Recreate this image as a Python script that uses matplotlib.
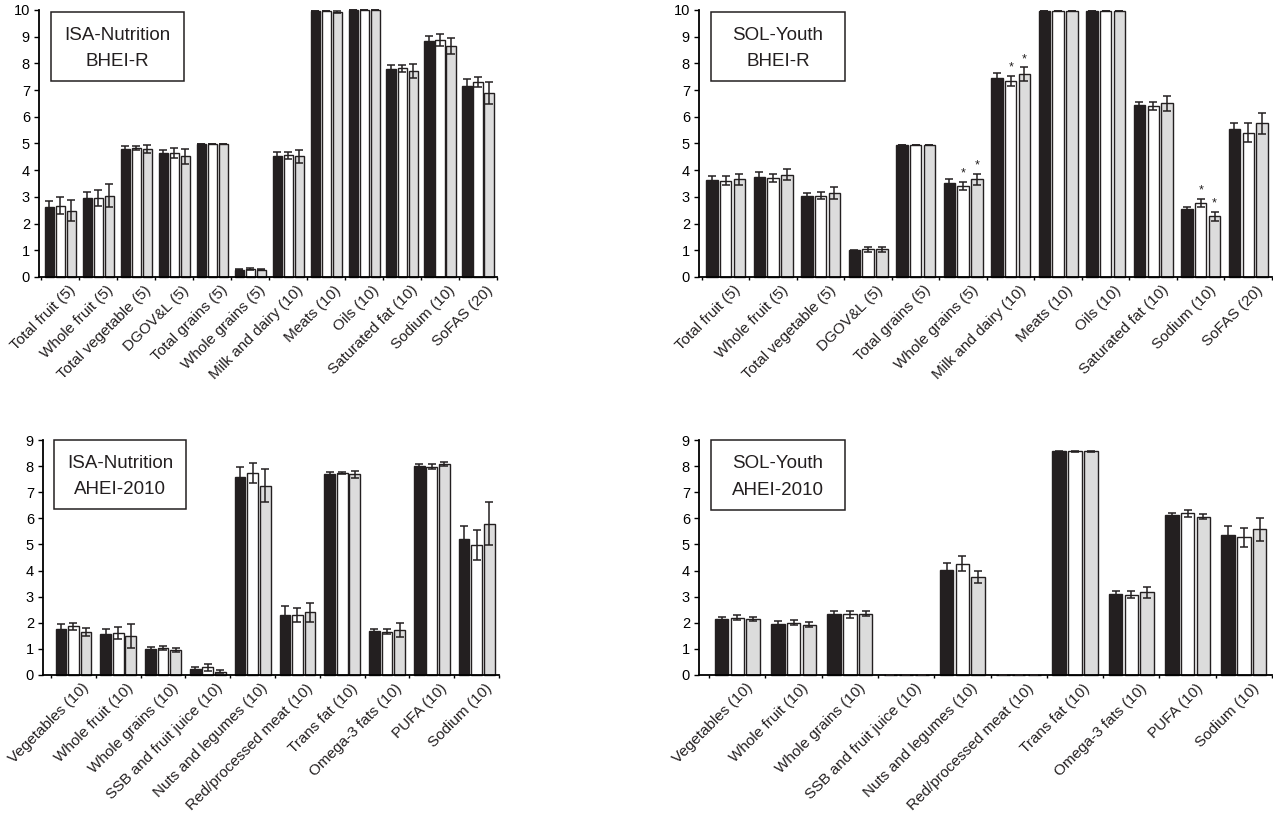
import matplotlib
matplotlib.use("Agg")
import matplotlib.pyplot as plt
from matplotlib.patches import Rectangle
import numpy as np

plt.rcParams['font.family'] = ['Liberation Sans', 'DejaVu Sans']

# ---------------- data ----------------
bhei_cats = ["Total fruit (5)", "Whole fruit (5)", "Total vegetable (5)", "DGOV&L (5)",
             "Total grains (5)", "Whole grains (5)", "Milk and dairy (10)", "Meats (10)",
             "Oils (10)", "Saturated fat (10)", "Sodium (10)", "SoFAS (20)"]
ahei_cats = ["Vegetables (10)", "Whole fruit (10)", "Whole grains (10)", "SSB and fruit juice (10)",
             "Nuts and legumes (10)", "Red/processed meat (10)", "Trans fat (10)",
             "Omega-3 fats (10)", "PUFA (10)", "Sodium (10)"]

isa_bhei_black = [2.62, 2.96, 4.78, 4.63, 4.98, 0.28, 4.53, 9.95, 10.0, 7.79, 8.83, 7.17]
isa_bhei_black_err = [0.23, 0.24, 0.13, 0.13, 0.0, 0.02, 0.15, 0.0, 0.0, 0.14, 0.18, 0.25]
isa_bhei_white = [2.67, 2.95, 4.83, 4.65, 4.98, 0.30, 4.56, 9.96, 10.0, 7.82, 8.88, 7.30]
isa_bhei_white_err = [0.32, 0.30, 0.08, 0.18, 0.0, 0.02, 0.14, 0.0, 0.0, 0.13, 0.22, 0.20]
isa_bhei_grey = [2.48, 3.05, 4.81, 4.53, 4.98, 0.27, 4.52, 9.92, 10.0, 7.72, 8.65, 6.90]
isa_bhei_grey_err = [0.40, 0.42, 0.15, 0.28, 0.0, 0.02, 0.24, 0.03, 0.0, 0.27, 0.30, 0.42]

sol_bhei_black = [3.63, 3.73, 3.05, 1.00, 4.93, 3.51, 7.44, 9.98, 9.98, 6.43, 2.56, 5.56]
sol_bhei_black_err = [0.16, 0.20, 0.11, 0.02, 0.0, 0.16, 0.21, 0.0, 0.0, 0.13, 0.06, 0.19]
sol_bhei_white = [3.61, 3.71, 3.04, 1.03, 4.93, 3.41, 7.35, 9.98, 9.98, 6.40, 2.78, 5.40]
sol_bhei_white_err = [0.17, 0.16, 0.13, 0.10, 0.0, 0.16, 0.19, 0.0, 0.0, 0.16, 0.15, 0.35]
sol_bhei_grey = [3.66, 3.83, 3.15, 1.03, 4.93, 3.66, 7.59, 9.98, 9.98, 6.50, 2.28, 5.75]
sol_bhei_grey_err = [0.21, 0.20, 0.21, 0.10, 0.0, 0.20, 0.26, 0.0, 0.0, 0.28, 0.17, 0.41]
sol_bhei_star_idx = [5, 6, 10]

isa_ahei_black = [1.76, 1.58, 0.99, 0.22, 7.59, 2.30, 7.68, 1.67, 7.99, 5.20]
isa_ahei_black_err = [0.18, 0.19, 0.10, 0.10, 0.36, 0.33, 0.10, 0.09, 0.11, 0.51]
isa_ahei_white = [1.86, 1.60, 1.03, 0.29, 7.74, 2.30, 7.74, 1.66, 7.98, 4.97]
isa_ahei_white_err = [0.12, 0.23, 0.09, 0.13, 0.37, 0.27, 0.03, 0.10, 0.09, 0.58]
isa_ahei_grey = [1.65, 1.50, 0.96, 0.13, 7.25, 2.40, 7.68, 1.71, 8.07, 5.80]
isa_ahei_grey_err = [0.15, 0.47, 0.06, 0.07, 0.63, 0.37, 0.13, 0.27, 0.07, 0.82]

sol_ahei_black = [2.15, 1.96, 2.32, 0.0, 4.02, 0.0, 8.57, 3.10, 6.12, 5.38]
sol_ahei_black_err = [0.09, 0.09, 0.15, 0.0, 0.27, 0.0, 0.02, 0.13, 0.09, 0.33]
sol_ahei_white = [2.20, 2.00, 2.32, 0.0, 4.27, 0.0, 8.57, 3.08, 6.19, 5.27]
sol_ahei_white_err = [0.10, 0.09, 0.14, 0.0, 0.28, 0.0, 0.02, 0.13, 0.12, 0.37]
sol_ahei_grey = [2.15, 1.93, 2.35, 0.0, 3.76, 0.0, 8.57, 3.17, 6.06, 5.58]
sol_ahei_grey_err = [0.08, 0.10, 0.10, 0.0, 0.22, 0.0, 0.02, 0.21, 0.10, 0.45]

y_ticks_bhei = list(range(0, 11))
y_ticks_ahei = list(range(0, 10))

BLACK = '#231f20'
GREY = '#dcdcdc'
W = 1273
H = 826

fig = plt.figure(figsize=(W / 100, H / 100), dpi=100)


def px_axes(left, right, top, bottom):
    return fig.add_axes([left / W, (H - bottom) / H, (right - left) / W, (bottom - top) / H])


def draw_panel(ax, cats, series, errs, ymax, yticks, title1, title2, box, stars=None,
               spacing=0.28, left_pad=0.5):
    n = len(cats)
    x = np.arange(n)
    colors = [BLACK, 'white', GREY]
    offs = [-spacing, 0, spacing]
    for s, (vals, err, c, o) in enumerate(zip(series, errs, colors, offs)):
        ax.bar(x + o, vals, width=0.24, color=c, edgecolor=BLACK, linewidth=1.0,
               clip_on=False, zorder=2)
        ax.errorbar(x + o, vals, yerr=err, fmt='none', ecolor=BLACK, elinewidth=1.1,
                    capsize=2.6, capthick=1.1, clip_on=False, zorder=3)
    if stars is not None:
        for i in stars:
            for s in (1, 2):
                top = series[s][i] + errs[s][i]
                ax.annotate('*', (i + offs[s], top), xytext=(0, 1.5), textcoords='offset points',
                            ha='center', va='bottom', fontsize=9, color=BLACK)
    ax.set_xlim(-left_pad, n - 0.5)
    ax.set_ylim(0, ymax)
    ax.set_yticks(yticks)
    ax.set_yticklabels([str(t) for t in yticks], fontsize=10.5)
    ax.set_xticks(x)
    ax.set_xticklabels([''] * n)
    for i, lab in enumerate(cats):
        ax.annotate(lab, (i, 0), xycoords=('data', 'axes fraction'), xytext=(8, -6),
                    textcoords='offset pixels', rotation=45, rotation_mode='anchor',
                    ha='right', va='top', fontsize=11, color=BLACK, annotation_clip=False)
    ax.set_xticks(np.arange(n + 1) - 0.5, minor=True)
    ax.tick_params(axis='x', which='major', length=0)
    ax.tick_params(axis='x', which='minor', length=2.5, width=1.0, direction='out')
    ax.tick_params(axis='y', length=3.5, width=1.0, direction='out', pad=3)
    for sp in ('top', 'right'):
        ax.spines[sp].set_visible(False)
    for sp in ('left', 'bottom'):
        ax.spines[sp].set_linewidth(1.3)
    bl, bb, bw, bh = box
    ax.add_patch(Rectangle((bl, bb), bw, bh, transform=ax.transAxes, fill=False,
                           edgecolor=BLACK, linewidth=1.1, clip_on=False, zorder=5))
    cx = bl + bw / 2
    ax.text(cx, bb + bh * 0.66, title1, transform=ax.transAxes, ha='center', va='center',
            fontsize=13.5, color=BLACK)
    ax.text(cx, bb + bh * 0.28, title2, transform=ax.transAxes, ha='center', va='center',
            fontsize=13.5, color=BLACK)


ax1 = px_axes(39, 497, 10, 277)
draw_panel(ax1, bhei_cats,
           [isa_bhei_black, isa_bhei_white, isa_bhei_grey],
           [isa_bhei_black_err, isa_bhei_white_err, isa_bhei_grey_err],
           10, y_ticks_bhei, "ISA-Nutrition", "BHEI-R",
           (0.026, 0.734, 0.291, 0.259), spacing=0.29, left_pad=0.56)

ax2 = px_axes(699, 1272, 10, 277)
draw_panel(ax2, bhei_cats,
           [sol_bhei_black, sol_bhei_white, sol_bhei_grey],
           [sol_bhei_black_err, sol_bhei_white_err, sol_bhei_grey_err],
           10, y_ticks_bhei, "SOL-Youth", "BHEI-R",
           (0.021, 0.734, 0.234, 0.259), stars=sol_bhei_star_idx, spacing=0.29, left_pad=0.56)

ax3 = px_axes(43, 499, 440, 675)
draw_panel(ax3, ahei_cats,
           [isa_ahei_black, isa_ahei_white, isa_ahei_grey],
           [isa_ahei_black_err, isa_ahei_white_err, isa_ahei_grey_err],
           9, y_ticks_ahei, "ISA-Nutrition", "AHEI-2010",
           (0.024, 0.706, 0.290, 0.294), left_pad=0.68)

ax4 = px_axes(699, 1272, 440, 675)
draw_panel(ax4, ahei_cats,
           [sol_ahei_black, sol_ahei_white, sol_ahei_grey],
           [sol_ahei_black_err, sol_ahei_white_err, sol_ahei_grey_err],
           9, y_ticks_ahei, "SOL-Youth", "AHEI-2010",
           (0.021, 0.702, 0.234, 0.298), left_pad=0.68)

fig.savefig("out.png", dpi=100, facecolor='white')
